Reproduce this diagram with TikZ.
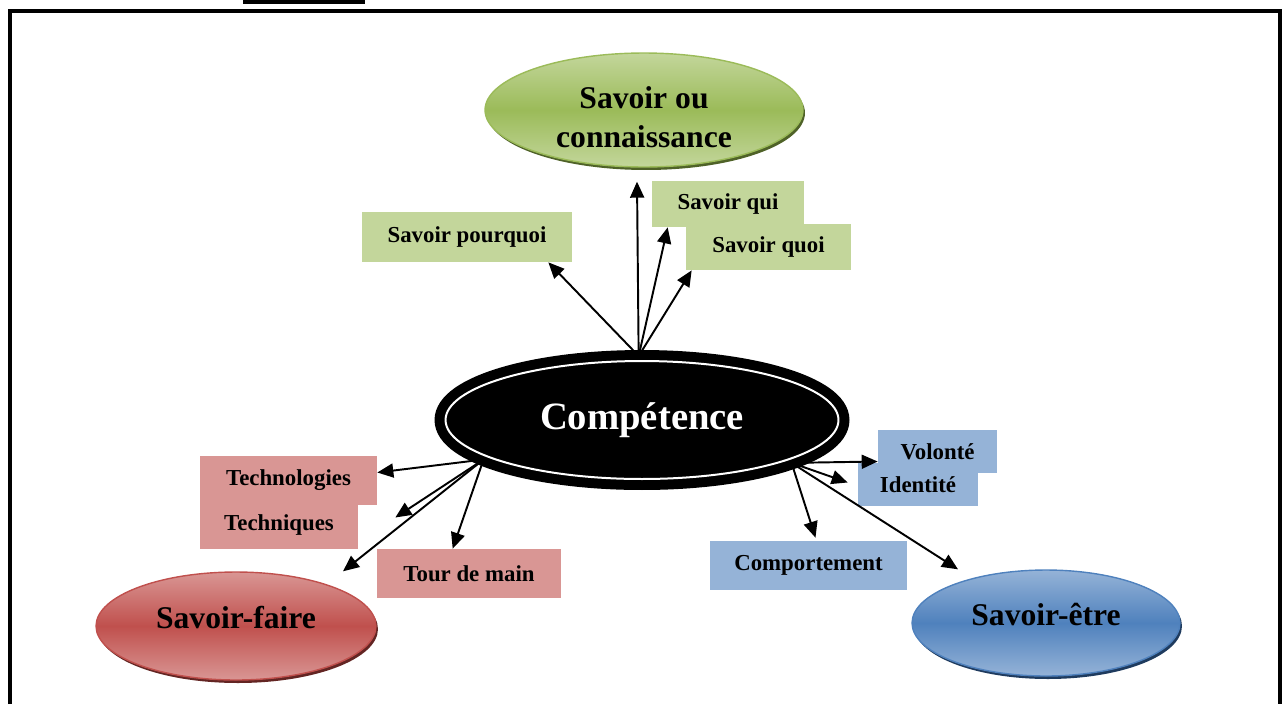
\documentclass[tikz,border=0pt]{standalone}
\usepackage{fontspec}
\setmainfont{Liberation Serif}
\usetikzlibrary{shapes.geometric,arrows.meta,calc,shadows}
\definecolor{verdeO}{HTML}{9BBB59}
\definecolor{verdeC}{HTML}{C3D69B}
\definecolor{verdeS}{HTML}{4F6228}
\definecolor{rojoO}{HTML}{C0504D}
\definecolor{rojoC}{HTML}{D99694}
\definecolor{rojoS}{HTML}{632523}
\definecolor{azulO}{HTML}{4F81BD}
\definecolor{azulC}{HTML}{95B3D7}
\definecolor{azulS}{HTML}{1F3B5E}
\begin{document}
\begin{tikzpicture}[x=0.02cm,y=-0.02cm,
>={Triangle[length=0.32cm,width=0.28cm]},
flecha/.style={->,line width=1.1pt}]%una unidad = un pixel de la figura
\tikzstyle{caja}=[rectangle,inner sep=0pt,font=\bfseries\fontsize{13pt}{15pt}\selectfont]% cajas de texto
\tikzstyle{elipse}=[ellipse,inner sep=0pt,line width=0.8pt,align=center,font=\bfseries\fontsize{18pt}{22pt}\selectfont]% elipses de color
\useasboundingbox (0,0) rectangle (1283,704);
\fill (243,0) rectangle (365,4);% barra del titulo
\draw[line width=0.08cm] (10,704) -- (10,11) -- (1280,11) -- (1280,704);% marco

% elipses
\node[elipse,draw=verdeO,top color=verdeC,bottom color=verdeC,middle color=verdeO,
  drop shadow={shadow xshift=0.04cm,shadow yshift=-0.06cm,fill=verdeS,opacity=1},
  minimum width=6.36cm,minimum height=2.28cm,text height=1.5cm] (con) at (644,110) {Savoir ou\\connaissance};
\node[ellipse,fill=black,draw=black,double=white,double distance=0.04cm,line width=0.2cm,
  inner sep=0pt,minimum width=7.86cm,minimum height=2.36cm,text=white,
  font=\bfseries\fontsize{22pt}{26pt}\selectfont] (comp) at (642,420) {Compétence};
\node[elipse,draw=rojoO,top color=rojoC,bottom color=rojoC,middle color=rojoO,
  drop shadow={shadow xshift=0.04cm,shadow yshift=-0.06cm,fill=rojoS,opacity=1},
  minimum width=5.6cm,minimum height=2.16cm,text depth=0.36cm] (sf) at (236,626) {Savoir-faire};
\node[elipse,draw=azulO,top color=azulC,bottom color=azulC,middle color=azulO,
  drop shadow={shadow xshift=0.04cm,shadow yshift=-0.06cm,fill=azulS,opacity=1},
  minimum width=5.36cm,minimum height=2.12cm,text depth=0.36cm] (se) at (1046,623) {Savoir-être};

% cajas
\node[caja,fill=verdeC,minimum width=4.2cm,minimum height=1cm] (pq) at (467,237) {Savoir pourquoi};
\node[caja,fill=verdeC,minimum width=3.04cm,minimum height=0.92cm] (qui) at (728,204) {Savoir qui\hspace{0.12cm}};
\node[caja,fill=verdeC,minimum width=3.3cm,minimum height=0.92cm] (quoi) at (768.5,247) {Savoir quoi\hspace{0.12cm}};
\node[caja,fill=rojoC,minimum width=3.16cm,minimum height=0.98cm] (tecni) at (279,524.5) {Techniques};
\node[caja,fill=rojoC,minimum width=3.54cm,minimum height=0.98cm] (tecno) at (288.5,480.5) {Technologies};
\node[caja,fill=rojoC,minimum width=3.68cm,minimum height=0.98cm] (tour) at (469,573.5) {Tour de main};
\node[caja,fill=azulC,minimum width=2.38cm,minimum height=0.86cm] (vol) at (937.5,451.5) {Volonté};
\node[caja,fill=azulC,minimum width=2.4cm,minimum height=0.86cm] (ident) at (918,484.5) {Identité};
\node[caja,fill=azulC,minimum width=3.94cm,minimum height=0.98cm] (compor) at (808.5,565.5) {Comportement};

% flechas
\draw[flecha] (comp.93) -- ($(pq.south east)+(-24,0)$);
\draw[flecha] (comp.93) -- ($(con.south)+(-7,14)$);
\draw[flecha] (comp.93) -- ($(qui.south west)+(16,0)$);
\draw[flecha] (comp.93) -- ($(quoi.south west)+(6,0)$);
\draw[flecha] (comp.194) -- ($(tecno.east)+(0,-8)$);
\draw[flecha] (comp.194) -- ($(tecni.east)+(37,-7)$);
\draw[flecha] (comp.194) -- ($(sf.north)+(107,0)$);
\draw[flecha] (comp.194) -- ($(tour.north west)+(76,0)$);
\draw[flecha] (comp.344) -- ($(vol.west)+(0,10)$);
\draw[flecha] (comp.344) -- ($(ident.west)+(-10,-2)$);
\draw[flecha] (comp.344) -- ($(compor.north)+(7,-3)$);
\draw[flecha] (comp.344) -- ($(se.north)+(-88,0)$);
\end{tikzpicture}
\end{document}
